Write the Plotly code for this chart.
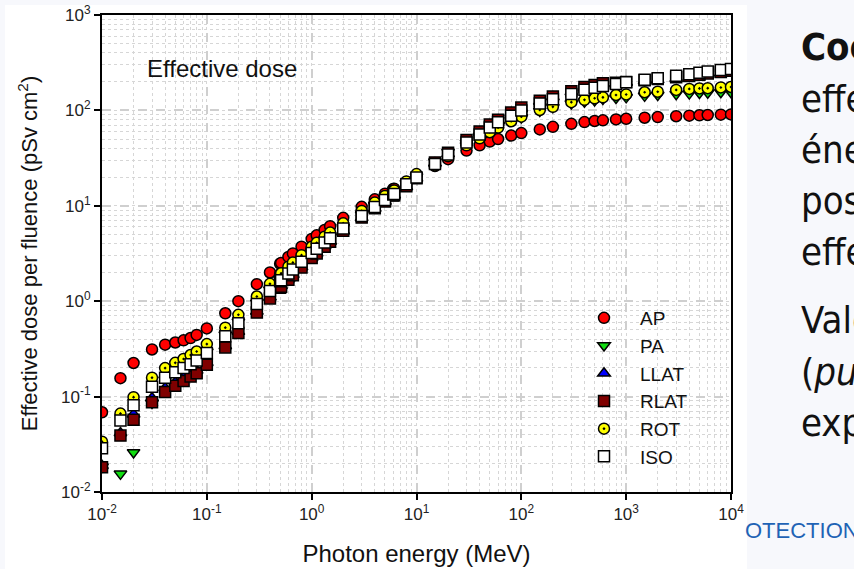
import plotly.graph_objects as go

# Photon energy (MeV)
energy = [0.01, 0.015, 0.02, 0.03, 0.04, 0.05, 0.06, 0.07, 0.08, 0.1, 0.15, 0.2, 0.3, 0.4, 0.5,
          0.511, 0.6, 0.662, 0.8, 1, 1.117, 1.33, 1.5, 2, 3, 4, 5, 6, 6.129, 8, 10, 15, 20, 30,
          40, 50, 60, 80, 100, 150, 200, 300, 400, 500, 600, 800, 1000, 1500, 2000, 3000, 4000,
          5000, 6000, 8000, 10000]

# Effective dose per fluence (pSv cm2)
ap = [0.0685, 0.156, 0.225, 0.312, 0.350, 0.369, 0.389, 0.411, 0.443, 0.518, 0.747, 1.00, 1.51, 2.00,
      2.47, 2.52, 2.91, 3.17, 3.73, 4.49, 4.90, 5.59, 6.12, 7.48, 9.75, 11.7, 13.4, 15.0, 15.1, 17.8,
      20.5, 26.1, 30.8, 37.9, 43.1, 47.1, 50.1, 54.5, 57.8, 63.2, 67.2, 72.3, 75.4, 77.4, 78.7, 80.4,
      81.7, 83.8, 85.2, 86.9, 88.1, 88.9, 89.5, 90.2, 90.7]
pa = [0.0184, 0.0155, 0.0260, 0.0855, 0.150, 0.180, 0.205, 0.225, 0.245, 0.295, 0.445, 0.610, 0.960,
      1.32, 1.67, 1.71, 2.01, 2.22, 2.67, 3.30, 3.64, 4.25, 4.70, 5.95, 8.10, 10.1, 11.9, 13.6, 13.8,
      17.2, 20.3, 29.0, 36.5, 45.5, 54.0, 62.0, 69.0, 79.0, 84.0, 98.8, 108, 118, 123, 127, 132, 135,
      137, 142, 145, 148, 150, 152, 153, 155, 155]
llat = [0.0189, 0.0416, 0.0655, 0.0965, 0.123, 0.141, 0.158, 0.173, 0.188, 0.226, 0.340, 0.480, 0.781,
        1.10, 1.41, 1.45, 1.71, 1.90, 2.28, 2.86, 3.19, 3.78, 4.23, 5.45, 7.51, 9.39, 11.1, 12.8, 12.9,
        15.8, 19.3, 28.0, 35.0, 48.0, 59.0, 70.0, 79.0, 94.0, 105, 124, 138, 156, 173, 182, 189, 192,
        196, 203, 209, 215, 222, 229, 236, 245, 252]
rlat = [0.0182, 0.0390, 0.0573, 0.0870, 0.112, 0.130, 0.146, 0.162, 0.176, 0.216, 0.328, 0.465, 0.759,
        1.07, 1.38, 1.42, 1.68, 1.87, 2.25, 2.84, 3.17, 3.73, 4.19, 5.46, 7.53, 9.40, 11.1, 12.8, 12.9,
        16.0, 19.5, 28.5, 36.0, 49.0, 60.0, 71.0, 80.0, 95.0, 107, 126, 140, 159, 176, 185, 192, 195,
        199, 207, 213, 222, 230, 237, 244, 253, 260]
rot = [0.0337, 0.0664, 0.0986, 0.158, 0.199, 0.226, 0.248, 0.273, 0.297, 0.355, 0.528, 0.720, 1.12,
       1.52, 1.92, 1.96, 2.30, 2.54, 3.04, 3.72, 4.10, 4.75, 5.24, 6.55, 8.84, 10.8, 12.7, 14.4, 14.5,
       18.0, 21.5, 26.5, 33.0, 43.0, 51.0, 59.0, 66.0, 77.0, 86.0, 101, 109, 122, 129, 134, 137, 145,
       147, 155, 157, 164, 168, 170, 171, 174, 176]
iso = [0.0288, 0.0560, 0.0812, 0.127, 0.158, 0.180, 0.199, 0.218, 0.239, 0.287, 0.429, 0.589, 0.932,
       1.28, 1.62, 1.66, 1.95, 2.15, 2.59, 3.21, 3.54, 4.13, 4.57, 5.78, 7.84, 9.73, 11.5, 13.1, 13.3,
       16.8, 19.8, 27.5, 34.5, 46.0, 56.0, 66.0, 75.0, 88.0, 100, 118, 131, 149, 165, 173, 180, 189,
       197, 209, 217, 231, 240, 248, 255, 265, 272]

series_names = ["AP", "PA", "LLAT", "RLAT", "ROT", "ISO"]
series_values = [ap, pa, llat, rlat, rot, iso]

x_tickvals = [0.01, 0.1, 1, 10, 100, 1000, 10000]
x_ticktext = ["10<sup>-2</sup>", "10<sup>-1</sup>", "10<sup>0</sup>", "10<sup>1</sup>",
              "10<sup>2</sup>", "10<sup>3</sup>", "10<sup>4</sup>"]
y_tickvals = [0.01, 0.1, 1, 10, 100, 1000]
y_ticktext = ["10<sup>-2</sup>", "10<sup>-1</sup>", "10<sup>0</sup>", "10<sup>1</sup>",
              "10<sup>2</sup>", "10<sup>3</sup>"]

side_lines = ["<b>Coefficients de dose</b>", "effective par fluence", "énergie des photons",
              "position d'irradiation", "effective", "Valeurs de la CIPR",
              "(<i>publication 116</i>)", "exposition externe"]

styles = {
    "AP": dict(symbol="circle", color="#ff0000"),
    "PA": dict(symbol="triangle-down", color="#11dd11"),
    "LLAT": dict(symbol="triangle-up", color="#0000ff"),
    "RLAT": dict(symbol="square", color="#800000"),
    "ROT": dict(symbol="circle-dot", color="#ffff00"),
    "ISO": dict(symbol="square", color="#ffffff"),
}

FONT = "Liberation Sans, Arial, sans-serif"
SIDE_FONT = "Liberation Sans Narrow, DejaVu Sans Condensed, Arial Narrow, Liberation Sans, sans-serif"

fig = go.Figure()
for name, vals in zip(series_names, series_values):
    st = styles[name]
    fig.add_trace(go.Scatter(
        x=energy, y=vals, mode="markers", name=name, legendgroup=name,
        marker=dict(symbol=st["symbol"], color=st["color"], size=11,
                    line=dict(color="black", width=1.5)),
    ))

W, H = 854, 569
# plot area in window pixels: x 102..731, y 15..492
L, R, T, B = 102, 731, 15, 492
def px(x):
    return (x - L) / (R - L)
def py(y):
    return (B - y) / (B - T)

fig.add_shape(type="rect", xref="paper", yref="paper", x0=px(5), x1=px(747), y0=py(575), y1=py(5),
              fillcolor="white", line=dict(width=0), layer="below")

fig.add_annotation(text="Effective dose", xref="paper", yref="paper", x=px(145), y=py(69),
                   xanchor="left", yanchor="middle", showarrow=False,
                   font=dict(family=FONT, size=24, color="#111111"))

centers = [47, 99, 150, 201, 252, 320, 372, 423]
for t, c in zip(side_lines, centers):
    fig.add_annotation(text=t, xref="paper", yref="paper", x=px(799), y=py(c),
                       xanchor="left", yanchor="middle", showarrow=False,
                       font=dict(family=SIDE_FONT, size=38, color="#111111"))

fig.add_annotation(text="OTECTION", xref="paper", yref="paper", x=px(743), y=py(530),
                   xanchor="left", yanchor="middle", showarrow=False,
                   font=dict(family=FONT, size=22, color="#1f63b5"))

axis_common = dict(
    type="log", showline=True, linecolor="black", linewidth=2, mirror=True,
    ticks="outside", ticklen=6, tickwidth=1.5, tickcolor="black",
    showgrid=True, gridcolor="#cfcfcf", gridwidth=1.5, griddash="dash",
    minor=dict(showgrid=True, gridcolor="#d6d6d6", gridwidth=1, griddash="dot", dtick="D1"),
    zeroline=False, automargin=False, ticklabeloverflow="allow",
    tickfont=dict(family=FONT, size=17, color="#222222"),
)

fig.update_xaxes(**axis_common, range=[-2, 4], tickvals=x_tickvals, ticktext=x_ticktext,
                 title=dict(text="Photon energy (MeV)", font=dict(family=FONT, size=24, color="#111111"),
                            standoff=22))
fig.update_yaxes(**axis_common, range=[-2, 3], tickvals=y_tickvals, ticktext=y_ticktext,
                 title=dict(text="Effective dose per fluence (pSv cm<sup>2</sup>)",
                            font=dict(family=FONT, size=22, color="#111111"), standoff=17))

fig.update_layout(
    width=W, height=H,
    margin=dict(l=L, r=W - R, t=T, b=H - B),
    paper_bgcolor="#f7f8fc", plot_bgcolor="white",
    legend=dict(x=px(568), y=py(299), xanchor="left", yanchor="top",
                bgcolor="rgba(0,0,0,0)", font=dict(family=FONT, size=19, color="#111111"),
                tracegroupgap=0, itemwidth=62),
    showlegend=True,
)

fig.write_html("out.html", config={"displayModeBar": False},
               post_script="document.body.style.margin='0px';")
